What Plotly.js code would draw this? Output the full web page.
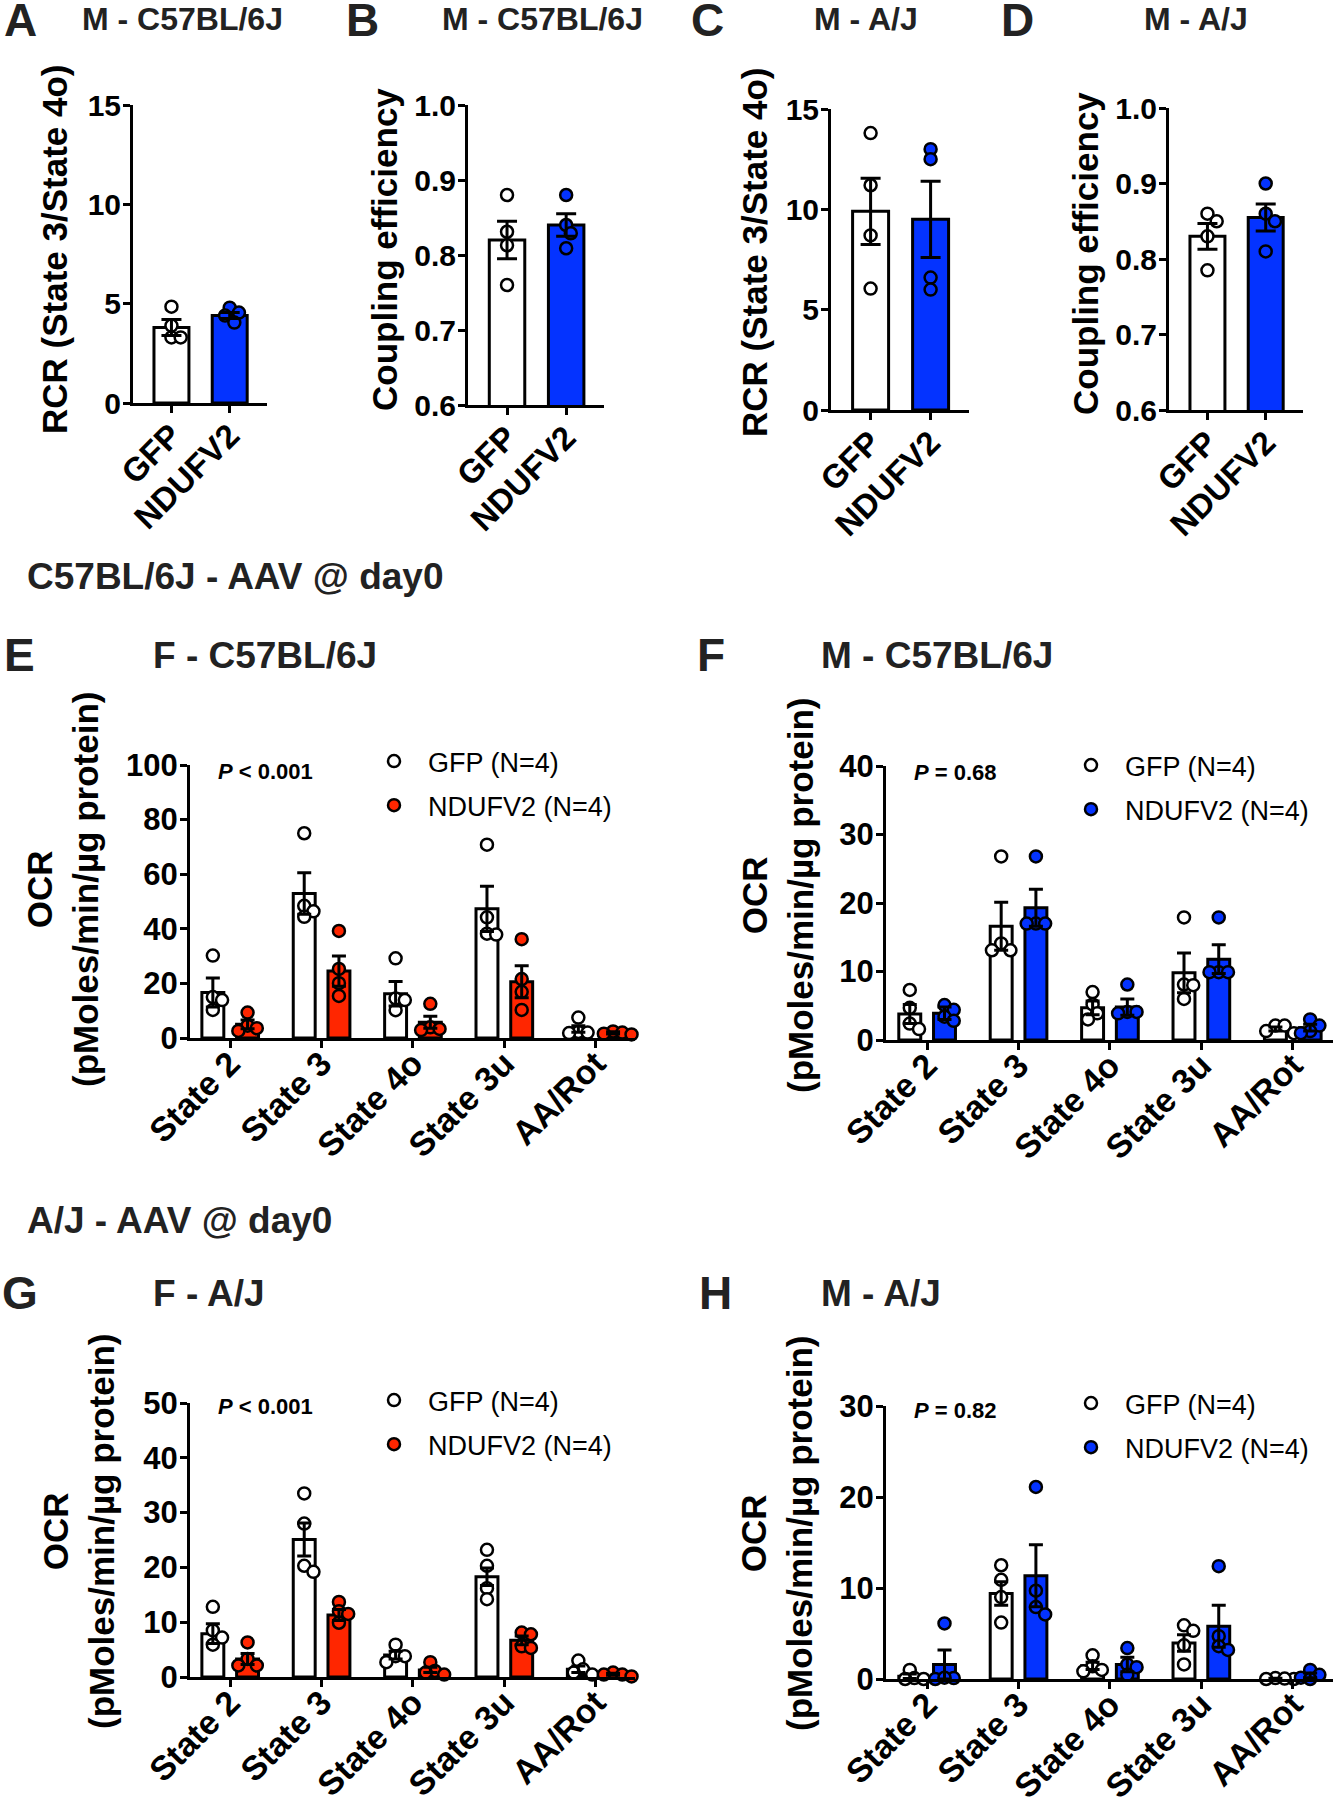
<!DOCTYPE html>
<html><head><meta charset="utf-8">
<script src="https://cdn.plot.ly/plotly-3.0.1.min.js"></script>
<style>body{margin:0;background:#fff}#chart{width:1334px;height:1800px}</style>
</head><body><div id="chart"></div>
<script>
// ---------------- DATA ----------------
const ratioGroups = ['GFP', 'NDUFV2'];
const stateLabels = ['State 2', 'State 3', 'State 4o', 'State 3u', 'AA/Rot'];

// A: M - C57BL/6J, RCR
const rcrB6Mean = [3.8, 4.4];
const rcrB6Sem = [0.4, 0.15];
const rcrB6GfpPts = [4.85, 3.9, 3.3, 3.3];
const rcrB6NdufPts = [4.8, 4.55, 4.4, 4.05];
// B: M - C57BL/6J, coupling efficiency
const ceB6Mean = [0.82, 0.84];
const ceB6Sem = [0.025, 0.015];
const ceB6GfpPts = [0.88, 0.831, 0.813, 0.76];
const ceB6NdufPts = [0.88, 0.84, 0.829, 0.809];
// C: M - A/J, RCR
const rcrAJMean = [9.9, 9.5];
const rcrAJSem = [1.65, 1.9];
const rcrAJGfpPts = [13.8, 11.2, 8.7, 6.05];
const rcrAJNdufPts = [13.0, 12.5, 6.6, 6.0];
// D: M - A/J, coupling efficiency
const ceAJMean = [0.83, 0.855];
const ceAJSem = [0.017, 0.018];
const ceAJGfpPts = [0.86, 0.85, 0.83, 0.785];
const ceAJNdufPts = [0.90, 0.86, 0.85, 0.81];

// E: F - C57BL/6J, OCR
const ocrFB6GfpMean = [16.7, 52.9, 16.2, 47.3, 3.3];
const ocrFB6GfpSem = [5.3, 7.6, 4.5, 8.3, 1.2];
const ocrFB6GfpPts = [[30.2, 15.0, 13.9, 10.3], [75.0, 48.4, 46.4, 44.4], [29.2, 14.5, 13.9, 10.2], [70.8, 44.2, 38.2, 37.9], [7.5, 2.2, 2.0, 1.8]];
const ocrFB6NdufMean = [5.0, 24.5, 5.8, 20.6, 1.9];
const ocrFB6NdufSem = [1.6, 5.5, 2.2, 5.9, 0.4];
const ocrFB6NdufPts = [[9.3, 4.5, 3.6, 2.6], [39.2, 25.3, 20.1, 15.4], [12.5, 3.9, 3.3, 2.9], [36.2, 21.6, 16.9, 10.3], [2.4, 2.0, 1.6, 1.3]];
// F: M - C57BL/6J, OCR
const ocrMB6GfpMean = [3.8, 16.6, 4.7, 9.8, 1.6];
const ocrMB6GfpSem = [1.4, 3.5, 1.0, 2.9, 0.3];
const ocrMB6GfpPts = [[7.3, 4.7, 2.4, 1.6], [26.8, 14.1, 13.1, 13.1], [7.0, 5.2, 3.9, 3.0], [17.9, 8.1, 8.0, 6.0], [2.1, 2.1, 1.3, 1.0]];
const ocrMB6NdufMean = [3.9, 19.3, 4.8, 11.8, 1.8];
const ocrMB6NdufSem = [0.9, 2.7, 1.2, 2.1, 0.5];
const ocrMB6NdufPts = [[5.1, 4.4, 3.4, 2.8], [26.8, 17.0, 17.0, 17.0], [8.1, 4.1, 4.1, 3.9], [17.9, 9.9, 9.9, 9.9], [3.0, 2.1, 1.3, 1.0]];
// G: F - A/J, OCR
const ocrFAJGfpMean = [7.9, 25.1, 4.0, 18.3, 1.4];
const ocrFAJGfpSem = [1.8, 3.0, 0.7, 1.6, 0.6];
const ocrFAJGfpPts = [[12.8, 8.5, 7.2, 5.9], [33.5, 28.0, 20.3, 19.2], [5.9, 3.8, 3.8, 2.7], [23.2, 20.3, 16.2, 14.2], [3.0, 1.4, 0.8, 0.45]];
const ocrFAJNdufMean = [3.3, 11.3, 1.3, 6.7, 0.5];
const ocrFAJNdufSem = [1.0, 1.0, 0.5, 0.8, 0.2];
const ocrFAJNdufPts = [[6.3, 3.3, 2.1, 2.1], [13.7, 12.0, 11.5, 9.9], [2.7, 1.1, 0.8, 0.45], [8.1, 7.8, 5.6, 5.3], [0.8, 0.45, 0.1, 0.45]];
// H: M - A/J, OCR
const ocrMAJGfpMean = [0.3, 9.4, 1.45, 3.95, 0.05];
const ocrMAJGfpSem = [0.25, 1.3, 0.4, 0.9, 0.03];
const ocrMAJGfpPts = [[1.0, 0.1, 0.0, 0.0], [12.5, 10.9, 9.0, 6.2], [2.6, 1.4, 1.0, 0.85], [5.9, 5.3, 3.7, 1.6], [0.1, 0.0, 0.0, 0.05]];
const ocrMAJNdufMean = [1.6, 11.35, 1.6, 5.8, 0.4];
const ocrMAJNdufSem = [1.6, 3.4, 0.8, 2.3, 0.25];
const ocrMAJNdufPts = [[6.1, 0.1, 0.0, 0.15], [21.1, 9.7, 7.9, 7.1], [3.4, 1.6, 1.3, 0.46], [12.4, 4.7, 3.6, 3.2], [1.0, 0.46, 0.15, 0.0]];

// ---------------- STYLE / LAYOUT ----------------
const W = 1334, H = 1800;
const FONT = '"Liberation Sans", Arial, Helvetica, sans-serif';
const BLUE = '#0433FF', RED = '#FF2600', INK = '#222222';
const MS = 12, MLW = 2.5, DIAM = 14;

function swarm(vals, yppu, xppu) {
  const order = vals.map((v, i) => i).sort((a, b) => vals[b] - vals[a]);
  const placed = [], off = new Array(vals.length).fill(0);
  const step = DIAM * 0.33, minD = DIAM * 0.65;
  order.forEach(i => {
    const y = vals[i] * yppu;
    for (let k = 0; k < 80; k++) {
      const c = k === 0 ? 0 : (k % 2 === 1 ? 1 : -1) * Math.ceil(k / 2) * step;
      if (placed.every(p => Math.hypot(p[0] - c, p[1] - y) >= minD)) {
        placed.push([c, y]); off[i] = c / xppu; break;
      }
    }
  });
  return off;
}

function topSeries(mean, sem, gp, np, color) {
  return [
    {name: 'GFP', fill: '#ffffff', cats: [0], offset: 0, width: 0.6, mean: [mean[0]], sem: [sem[0]], pts: [gp]},
    {name: 'NDUFV2', fill: color, cats: [1], offset: 0, width: 0.6, mean: [mean[1]], sem: [sem[1]], pts: [np]}
  ];
}
function lowSeries(gm, gs, gp, nm, ns, np, color) {
  const cats = stateLabels.map((s, i) => i);
  return [
    {name: 'GFP (N=4)', fill: '#ffffff', cats, offset: -0.19, width: 0.24, mean: gm, sem: gs, pts: gp},
    {name: 'NDUFV2 (N=4)', fill: color, cats, offset: 0.19, width: 0.24, mean: nm, sem: ns, pts: np}
  ];
}

const panels = [
  {n: 1, box: [133, 267, 105, 403], yr: [0, 15], dtick: 5, fmt: '', xr: [-0.66, 1.64], tf: 30, xf: 33, xs: -10, ticks: ratioGroups, capW: 10,
   series: topSeries(rcrB6Mean, rcrB6Sem, rcrB6GfpPts, rcrB6NdufPts, BLUE)},
  {n: 2, box: [468, 604, 105, 405], yr: [0.6, 1.0], dtick: 0.1, fmt: '.1f', xr: [-0.66, 1.64], tf: 30, xf: 33, xs: -10, ticks: ratioGroups, capW: 10,
   series: topSeries(ceB6Mean, ceB6Sem, ceB6GfpPts, ceB6NdufPts, BLUE)},
  {n: 3, box: [831, 969, 109, 410], yr: [0, 15], dtick: 5, fmt: '', xr: [-0.66, 1.64], tf: 30, xf: 33, xs: -10, ticks: ratioGroups, capW: 10,
   series: topSeries(rcrAJMean, rcrAJSem, rcrAJGfpPts, rcrAJNdufPts, BLUE)},
  {n: 4, box: [1169, 1303, 108, 410], yr: [0.6, 1.0], dtick: 0.1, fmt: '.1f', xr: [-0.66, 1.64], tf: 30, xf: 33, xs: -10, ticks: ratioGroups, capW: 10,
   series: topSeries(ceAJMean, ceAJSem, ceAJGfpPts, ceAJNdufPts, BLUE)},
  {n: 5, box: [190, 635, 765, 1038], yr: [0, 100], dtick: 20, fmt: '', xr: [-0.44, 4.43], tf: 31, xf: 34, xs: -18, ticks: stateLabels, capW: 7, legend: 'legend',
   series: lowSeries(ocrFB6GfpMean, ocrFB6GfpSem, ocrFB6GfpPts, ocrFB6NdufMean, ocrFB6NdufSem, ocrFB6NdufPts, RED)},
  {n: 6, box: [886, 1333, 766, 1040], yr: [0, 40], dtick: 10, fmt: '', xr: [-0.45, 4.44], tf: 31, xf: 34, xs: -18, ticks: stateLabels, capW: 7, legend: 'legend2',
   series: lowSeries(ocrMB6GfpMean, ocrMB6GfpSem, ocrMB6GfpPts, ocrMB6NdufMean, ocrMB6NdufSem, ocrMB6NdufPts, BLUE)},
  {n: 7, box: [190, 635, 1403, 1677], yr: [0, 50], dtick: 10, fmt: '', xr: [-0.44, 4.43], tf: 31, xf: 34, xs: -18, ticks: stateLabels, capW: 7, legend: 'legend3',
   series: lowSeries(ocrFAJGfpMean, ocrFAJGfpSem, ocrFAJGfpPts, ocrFAJNdufMean, ocrFAJNdufSem, ocrFAJNdufPts, RED)},
  {n: 8, box: [886, 1333, 1406, 1679], yr: [0, 30], dtick: 10, fmt: '', xr: [-0.45, 4.44], tf: 31, xf: 34, xs: -18, ticks: stateLabels, capW: 7, legend: 'legend4',
   series: lowSeries(ocrMAJGfpMean, ocrMAJGfpSem, ocrMAJGfpPts, ocrMAJNdufMean, ocrMAJNdufSem, ocrMAJNdufPts, BLUE)}
];

const traces = [];
const layout = {
  width: W, height: H, margin: {l: 0, r: 0, t: 0, b: 0},
  paper_bgcolor: '#ffffff', plot_bgcolor: 'rgba(0,0,0,0)',
  font: {family: FONT, color: '#000'}, showlegend: true, annotations: []
};

panels.forEach(p => {
  const xa = p.n === 1 ? 'x' : 'x' + p.n, ya = p.n === 1 ? 'y' : 'y' + p.n;
  const [x0, x1, yT, yB] = p.box;
  const yppu = (yB - yT) / (p.yr[1] - p.yr[0]);
  const xppu = (x1 - x0) / (p.xr[1] - p.xr[0]);
  const axisCommon = {
    showline: true, linewidth: 3, linecolor: '#000', ticks: 'outside', ticklen: 7, tickwidth: 3, tickcolor: '#000',
    showgrid: false, zeroline: false, fixedrange: true
  };
  layout[xa === 'x' ? 'xaxis' : 'xaxis' + p.n] = Object.assign({}, axisCommon, {
    domain: [x0 / W, x1 / W], range: p.xr, anchor: ya,
    tickmode: 'array', tickvals: p.ticks.map((t, i) => i), ticktext: p.ticks, tickangle: -45,
    ticklabelstandoff: p.xs,
    tickfont: {family: FONT, size: p.xf, weight: 'bold', color: '#000'}
  });
  layout[ya === 'y' ? 'yaxis' : 'yaxis' + p.n] = Object.assign({}, axisCommon, {
    domain: [1 - yB / H, 1 - yT / H], range: p.yr, anchor: xa,
    tickmode: 'linear', tick0: p.yr[0], dtick: p.dtick, tickformat: p.fmt,
    ticklabelstandoff: -4,
    tickfont: {family: FONT, size: p.tf, weight: 'bold', color: '#000'}
  });
  // bars
  p.series.forEach(s => {
    traces.push({
      type: 'bar', x: s.cats.map(c => c + s.offset), y: s.mean, width: s.width,
      marker: {color: s.fill, line: {color: '#000', width: 3}},
      xaxis: xa, yaxis: ya, showlegend: false, hoverinfo: 'skip'
    });
  });
  // individual points
  p.series.forEach((s, si) => {
    const xs = [], ys = [];
    s.cats.forEach((c, ci) => {
      const vals = s.pts[ci];
      const off = swarm(vals, yppu, xppu);
      vals.forEach((v, k) => { xs.push(c + s.offset + off[k]); ys.push(v); });
    });
    const t = {
      type: 'scatter', mode: 'markers', x: xs, y: ys, name: s.name,
      marker: {symbol: 'circle', size: MS, color: s.fill, line: {color: '#000', width: MLW}},
      xaxis: xa, yaxis: ya, cliponaxis: false, hoverinfo: 'skip',
      showlegend: !!p.legend
    };
    if (p.legend) { t.legend = p.legend; t.legendgroup = p.legend + '_' + si; }
    traces.push(t);
  });
  // SEM error bars (drawn over the points)
  p.series.forEach(s => {
    traces.push({
      type: 'scatter', mode: 'markers', x: s.cats.map(c => c + s.offset), y: s.mean,
      marker: {size: 2, opacity: 0},
      error_y: {type: 'data', array: s.sem, visible: true, color: '#000', thickness: 3, width: p.capW},
      xaxis: xa, yaxis: ya, showlegend: false, hoverinfo: 'skip', cliponaxis: false
    });
  });
});

// legends
const legendPos = {legend: [394, 761], legend2: [1091, 765], legend3: [394, 1400], legend4: [1091, 1403]};
Object.keys(legendPos).forEach(k => {
  const [mx, my] = legendPos[k];
  layout[k] = {
    x: (mx - 34) / W, y: 1 - (my - 24) / H, xanchor: 'left', yanchor: 'top',
    bgcolor: 'rgba(0,0,0,0)', borderwidth: 0, itemwidth: 58, tracegroupgap: 6,
    font: {family: FONT, size: 27, color: '#000'}
  };
});

function ann(text, x, y, size, extra) {
  layout.annotations.push(Object.assign({
    text, x: x / W, y: 1 - y / H, xref: 'paper', yref: 'paper', showarrow: false,
    xanchor: 'left', yanchor: 'middle',
    font: {family: FONT, size, weight: 'bold', color: INK}
  }, extra || {}));
}
// panel letters
[['A', 2, 20], ['B', 344, 20], ['C', 689, 20], ['D', 999, 20],
 ['E', 2, 655], ['F', 695, 655], ['G', 0, 1293], ['H', 697, 1293]].forEach(a => ann(a[0], a[1], a[2], 46));
// panel titles
[['M - C57BL/6J', 80, 19, 32], ['M - C57BL/6J', 440, 19, 32], ['M - A/J', 812, 19, 32], ['M - A/J', 1142, 19, 32],
 ['F - C57BL/6J', 151, 655, 37], ['M - C57BL/6J', 819, 655, 37], ['F - A/J', 151, 1293, 37], ['M - A/J', 819, 1293, 37]]
  .forEach(a => ann(a[0], a[1], a[2], a[3]));
// section headers
ann('C57BL/6J - AAV @ day0', 25, 576, 37);
ann('A/J - AAV @ day0', 25, 1220, 37);
// y-axis titles
const yt = {textangle: -90, xanchor: 'center', yanchor: 'middle'};
const blackBold = s => ({family: FONT, size: s, weight: 'bold', color: '#000'});
ann('RCR (State 3/State 4o)', 55, 249, 35, Object.assign({font: blackBold(35)}, yt));
ann('Coupling efficiency', 385, 250, 35, Object.assign({font: blackBold(35)}, yt));
ann('RCR (State 3/State 4o)', 754, 252, 35, Object.assign({font: blackBold(35)}, yt));
ann('Coupling efficiency', 1086, 254, 35, Object.assign({font: blackBold(35)}, yt));
const ocrTitle = 'OCR<br>(pMoles/min/µg protein)';
ann(ocrTitle, 62, 890, 35, Object.assign({font: blackBold(35)}, yt));
ann(ocrTitle, 777, 896, 35, Object.assign({font: blackBold(35)}, yt));
ann(ocrTitle, 78, 1532, 35, Object.assign({font: blackBold(35)}, yt));
ann(ocrTitle, 776, 1534, 35, Object.assign({font: blackBold(35)}, yt));
// p-values
ann('<i>P</i> &lt; 0.001', 216, 771, 22, {font: blackBold(22)});
ann('<i>P</i> = 0.68', 912, 772, 22, {font: blackBold(22)});
ann('<i>P</i> &lt; 0.001', 216, 1406, 22, {font: blackBold(22)});
ann('<i>P</i> = 0.82', 912, 1410, 22, {font: blackBold(22)});

Plotly.newPlot('chart', traces, layout, {staticPlot: true, displayModeBar: false});
</script></body></html>
